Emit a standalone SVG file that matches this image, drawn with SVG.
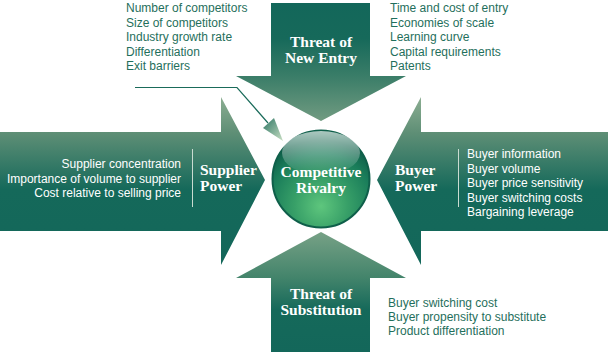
<svg xmlns="http://www.w3.org/2000/svg" width="608" height="352" viewBox="0 0 608 352">
<style>
.list{font-family:"Liberation Sans",Arial,sans-serif;font-size:12px;fill:#1f6f5c}
.wlist{font-family:"Liberation Sans",Arial,sans-serif;font-size:12px;fill:#ffffff}
.title{font-family:"Liberation Serif","Times New Roman",serif;font-size:15.5px;font-weight:bold;fill:#ffffff}
.sep{stroke:#c9dbd1;stroke-width:1}
.ptr{stroke:#1a6b5a;stroke-width:1.2;fill:none}
</style>
<defs>
<linearGradient id="gTop" x1="0" y1="0" x2="0" y2="1">
<stop offset="0" stop-color="#13675a"/>
<stop offset="0.3" stop-color="#16695a"/>
<stop offset="0.62" stop-color="#3a7d68"/>
<stop offset="1" stop-color="#719b81"/>
</linearGradient>
<linearGradient id="gSide" x1="0" y1="0" x2="0" y2="1">
<stop offset="0" stop-color="#8cae92"/>
<stop offset="0.21" stop-color="#5f8f76"/>
<stop offset="0.55" stop-color="#15695a"/>
<stop offset="1" stop-color="#13675a"/>
</linearGradient>
<linearGradient id="gBot" x1="0" y1="0" x2="0" y2="1">
<stop offset="0" stop-color="#77a186"/>
<stop offset="0.38" stop-color="#43846b"/>
<stop offset="0.65" stop-color="#15695a"/>
<stop offset="1" stop-color="#13675a"/>
</linearGradient>
<linearGradient id="gPtr" x1="0" y1="0" x2="1" y2="1">
<stop offset="0" stop-color="#2c7563"/>
<stop offset="1" stop-color="#c9dfc4"/>
</linearGradient>
<radialGradient id="gBall" cx="0.5" cy="0.78" r="0.68">
<stop offset="0" stop-color="#5ec67d"/>
<stop offset="0.4" stop-color="#38a068"/>
<stop offset="0.8" stop-color="#1a7d5a"/>
<stop offset="1" stop-color="#10624b"/>
</radialGradient>
<linearGradient id="gHi" x1="0" y1="0" x2="0" y2="1">
<stop offset="0" stop-color="#ffffff" stop-opacity="0.65"/>
<stop offset="1" stop-color="#ffffff" stop-opacity="0"/>
</linearGradient>
</defs>

<g id="threat-new-entry">
<polygon points="271,3 370,3 370,76 406,76 321,121 236,76 271,76" fill="url(#gTop)"/>
<text class="title" x="321" y="47" text-anchor="middle">Threat of</text>
<text class="title" x="321" y="63" text-anchor="middle">New Entry</text>
</g>

<g id="supplier-power">
<polygon points="0,132 221,132 221,97 265,180 221,265 221,231 0,231" fill="url(#gSide)"/>
<text class="wlist" x="181" y="168" text-anchor="end">Supplier concentration</text>
<text class="wlist" x="181" y="182.5" text-anchor="end">Importance of volume to supplier</text>
<text class="wlist" x="181" y="197" text-anchor="end">Cost relative to selling price</text>
<line class="sep" x1="192.5" y1="149" x2="192.5" y2="207"/>
<text class="title" x="200" y="175">Supplier</text>
<text class="title" x="200" y="191">Power</text>
</g>

<g id="buyer-power">
<polygon points="608,132 421,132 421,97 377,180 421,265 421,231 608,231" fill="url(#gSide)"/>
<text class="title" x="395" y="175">Buyer</text>
<text class="title" x="395" y="191">Power</text>
<line class="sep" x1="458.5" y1="149" x2="458.5" y2="207"/>
<text class="wlist" x="467" y="158">Buyer information</text>
<text class="wlist" x="467" y="172.5">Buyer volume</text>
<text class="wlist" x="467" y="187">Buyer price sensitivity</text>
<text class="wlist" x="467" y="201.5">Buyer switching costs</text>
<text class="wlist" x="467" y="216">Bargaining leverage</text>
</g>

<g id="threat-substitution">
<polygon points="271,352 370,352 370,278 406,278 321,232 236,278 271,278" fill="url(#gBot)"/>
<text class="title" x="321" y="299" text-anchor="middle">Threat of</text>
<text class="title" x="321" y="315" text-anchor="middle">Substitution</text>
</g>

<g id="competitive-rivalry">
<circle cx="321" cy="179" r="48.5" fill="url(#gBall)" stroke="#0f5f4a" stroke-width="2"/>
<ellipse cx="321" cy="153" rx="39" ry="22" fill="url(#gHi)"/>
<text class="title" x="321" y="177" text-anchor="middle">Competitive</text>
<text class="title" x="321" y="193" text-anchor="middle">Rivalry</text>
</g>

<g id="rivalry-factors">
<text class="list" x="126" y="12">Number of competitors</text>
<text class="list" x="126" y="26.5">Size of competitors</text>
<text class="list" x="126" y="41">Industry growth rate</text>
<text class="list" x="126" y="55.5">Differentiation</text>
<text class="list" x="126" y="70">Exit barriers</text>
</g>

<g id="entry-factors">
<text class="list" x="390" y="12">Time and cost of entry</text>
<text class="list" x="390" y="26.5">Economies of scale</text>
<text class="list" x="390" y="41">Learning curve</text>
<text class="list" x="390" y="55.5">Capital requirements</text>
<text class="list" x="390" y="70">Patents</text>
</g>

<g id="substitution-factors">
<text class="list" x="388" y="307">Buyer switching cost</text>
<text class="list" x="388" y="321">Buyer propensity to substitute</text>
<text class="list" x="388" y="335">Product differentiation</text>
</g>

<g id="connectors">
<polyline class="ptr" points="135,87.5 237,87.5 268,123"/>
<polygon points="263,128 274,118 283,141" fill="url(#gPtr)"/>
</g>
</svg>
